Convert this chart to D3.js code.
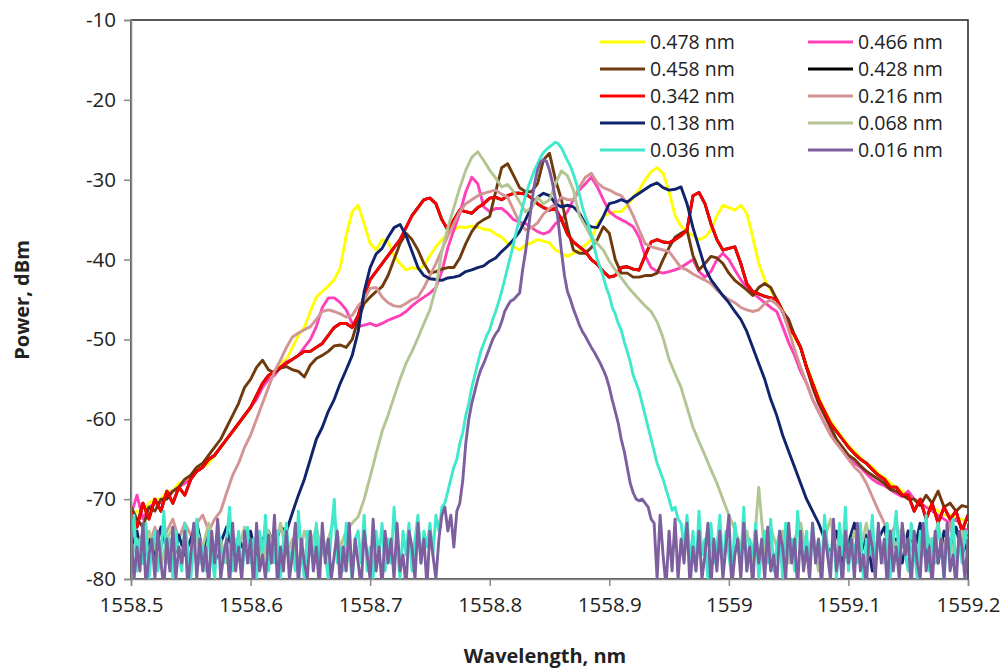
<!DOCTYPE html>
<html><head><meta charset="utf-8">
<script src="https://cdn.jsdelivr.net/npm/d3@7"></script>
<style>body{margin:0;background:#fff}</style>
</head><body><svg id="c" width="1008" height="669"></svg>
<script>
// ---------------- data ----------------
const xTicks = [1558.5,1558.6,1558.7,1558.8,1558.9,1559.0,1559.1,1559.2];
const xTickLabels = ["1558.5","1558.6","1558.7","1558.8","1558.9","1559","1559.1","1559.2"];
const yTicks = [-80,-70,-60,-50,-40,-30,-20,-10];
const yTickLabels = ["-80","-70","-60","-50","-40","-30","-20","-10"];
const seriesNames = ["0.478 nm","0.466 nm","0.458 nm","0.428 nm","0.342 nm","0.216 nm","0.138 nm","0.068 nm","0.036 nm","0.016 nm"];
const seriesColors = ["#ffff00","#ff40b8","#6f3a0c","#000000","#ff0000","#d49494","#10246e","#b3c593","#40e8cc","#7d5fa0"];

// coarse traces, sampled every 0.005 nm from 1558.5 nm
const p478 = [-72,-71.5,-72,-70.5,-70,-70,-69,-69,-68,-68,
 -67,-66.5,-66,-65.5,-64.5,-63.5,-62.5,-61.5,-60.5,-59.5,
 -58.5,-57,-56,-55,-54,-53,-52.5,-51,-49.5,-48.5,
 -46.5,-44.7,-44,-43.3,-42.5,-41,-37,-34,-33.2,-35.5,
 -38,-38.8,-37.5,-37.8,-39.5,-40.5,-41.3,-41,-41.2,-40.8,
 -39.5,-38.4,-37.5,-36.8,-36.3,-35.9,-36,-35.8,-35.9,-36.2,
 -36.3,-36.8,-37.2,-38,-38.4,-38.8,-38.2,-37.9,-37.5,-37.7,
 -37.9,-38.8,-39.2,-39.6,-39.2,-38.8,-38.2,-37.5,-35.5,-34.6,
 -34.2,-34,-34,-33.2,-32.2,-31.3,-30,-29,-28.5,-29.2,
 -31.5,-34.5,-35.8,-36.5,-37,-37.5,-37.2,-36.3,-34.5,-33.2,
 -33.5,-33.8,-33.2,-34.2,-37.2,-40.5,-42.6,-43.8,-45,-46.3,
 -48,-49.8,-51,-53.3,-55.3,-57.2,-58.8,-60.2,-61.3,-62.3,
 -63.3,-64,-64.8,-65.5,-66,-66.8,-67.3,-68,-68.5,-69,
 -69.5,-70,-70.5,-71,-71,-71.5,-72,-72,-72.5,-72.5,
 -73];
const p466 = [-72,-69.5,-72.5,-71,-70.5,-70.5,-69.5,-69,-68.5,-68,
 -67.5,-66.5,-66,-65,-64.5,-63.5,-62.5,-61.5,-60.5,-59.5,
 -58.5,-57.5,-56,-55,-54.5,-53.5,-52.8,-52.5,-52,-51,
 -50,-48.4,-46,-44.8,-44.8,-45.4,-46.3,-48,-48.4,-48.2,
 -48,-48.3,-48,-47.6,-47.3,-47,-46.5,-45.8,-45.2,-44.7,
 -44.2,-43.5,-41.5,-38.5,-36.3,-34.2,-31.5,-29.7,-30.5,-33.4,
 -34,-33.6,-33.6,-34.2,-35,-35.3,-35.5,-36,-36.5,-36.8,
 -36.5,-35.5,-35,-34,-32.5,-31.3,-30.5,-29.7,-30.9,-32.5,
 -34,-34.6,-35,-35.4,-35.9,-37.2,-39.5,-41,-41.5,-41.7,
 -41.5,-41.3,-41,-40.5,-40,-41.5,-42.2,-41.5,-40,-39.2,
 -40,-41.3,-42.5,-43.5,-44.2,-44.8,-45.4,-46,-46.5,-48.4,
 -50.4,-52,-54,-55.5,-57.5,-59,-60.5,-61.8,-63,-63.8,
 -64.8,-65.5,-66,-66.8,-67.5,-68,-68.3,-68.8,-69.3,-69.7,
 -69,-70,-70.5,-71,-71.5,-72,-72.5,-73,-72.5,-73.5,
 -74];
const p458 = [-71,-72.5,-73.5,-71,-71.5,-70,-70,-69,-68.5,-67.5,
 -67,-66,-65.5,-64.5,-63.5,-62.5,-61,-59.5,-58,-56,
 -55,-53.5,-52.6,-53.8,-54.2,-53.6,-53.4,-53.8,-54,-54.7,
 -53.2,-52.4,-52,-51.5,-50.8,-50.7,-51,-50,-47.5,-45.5,
 -44.7,-44,-43.4,-42,-40,-38,-36.7,-37.5,-38.8,-40.5,
 -41.7,-41.5,-41.2,-41,-41,-39.8,-38,-36.5,-35.5,-35,
 -34.6,-31.5,-28.5,-28,-29.5,-31,-31.5,-31.5,-30.5,-27.5,
 -26.7,-30,-32.5,-36,-38.8,-39.2,-39.2,-38.5,-37.5,-35.9,
 -36.7,-40,-41.7,-41.7,-42.2,-42.2,-42,-42,-41.7,-40,
 -38.5,-37.2,-36.7,-36.3,-39.5,-41.3,-40.5,-39.6,-39.8,-40.5,
 -41.7,-42.6,-43.2,-43.8,-44.5,-43.5,-43,-43.5,-45,-46.5,
 -47.5,-49.5,-51,-53.5,-56,-58,-59.5,-61,-62.5,-63.5,
 -64.5,-65,-65.8,-66.5,-67,-67.5,-68,-68.8,-69,-69.5,
 -70,-70,-70.8,-69.5,-70.5,-69,-71,-70.5,-71.5,-70.8,
 -71];
const p428 = [-71.5,-73.5,-70.5,-72.5,-70,-71.5,-69,-70.5,-68.5,-69.5,
 -67.5,-66.5,-66,-65,-64.5,-63.5,-62.5,-61.5,-60.5,-59.5,
 -58.5,-57,-55.5,-54.5,-54,-53.5,-53,-52.5,-52,-51.5,
 -51.5,-51,-50.5,-49.5,-48.5,-48,-48,-48.5,-47,-44.5,
 -42.5,-41.5,-40.5,-39.5,-38.5,-37.5,-36,-34.5,-33.5,-32.5,
 -32.3,-33,-35,-36.3,-35,-33.8,-34,-34.2,-33.5,-33,
 -32.3,-32.2,-32.5,-32,-31.7,-31.7,-31.8,-32.3,-33,-33.5,
 -33.8,-33.6,-35,-36.8,-37.8,-38.4,-39,-40,-40.6,-41.5,
 -42.2,-42,-41,-40.9,-41.2,-41.3,-39.5,-37.8,-37.5,-37.8,
 -37.9,-37.5,-37,-36.3,-32,-31.6,-33,-35.5,-37.5,-38.8,
 -38.6,-38.4,-40.5,-43,-44,-44.3,-44.6,-44.8,-45,-46.5,
 -48.5,-49.5,-51,-53.5,-55.5,-57.5,-59,-60.5,-61.5,-62.5,
 -63.5,-64.3,-65,-65.5,-66.3,-67,-67.5,-68.5,-68.5,-69.5,
 -69.5,-71.5,-70,-72.5,-70.5,-73,-71,-72.5,-71.5,-74,
 -72];
const p342 = [-71.5,-73.5,-70.5,-72.5,-70,-71.5,-69,-70.5,-68.5,-69.5,
 -67.5,-66.5,-66,-65,-64.5,-63.5,-62.5,-61.5,-60.5,-59.5,
 -58.5,-57,-55.5,-54.5,-54,-53.5,-53,-52.5,-52,-51.5,
 -51.5,-51,-50.5,-49.5,-48.5,-48,-48,-48.5,-47,-44.5,
 -42.5,-41.5,-40.5,-39.5,-38.5,-37.5,-36,-34.5,-33.5,-32.5,
 -32.3,-33,-35,-36.3,-35,-33.8,-34,-34.2,-33.5,-33,
 -32.3,-32.2,-32.5,-32,-31.7,-31.7,-31.8,-32.3,-33,-33.5,
 -33.8,-33.6,-35,-36.8,-37.8,-38.4,-39,-40,-40.6,-41.5,
 -42.2,-42,-41,-40.9,-41.2,-41.3,-39.5,-37.8,-37.5,-37.8,
 -37.9,-37.5,-37,-36.3,-32,-31.6,-33,-35.5,-37.5,-38.8,
 -38.6,-38.4,-40.5,-43,-44,-44.3,-44.6,-44.8,-45,-46.5,
 -48.5,-49.5,-51,-53.5,-55.5,-57.5,-59,-60.5,-61.5,-62.5,
 -63.5,-64.3,-65,-65.5,-66.3,-67,-67.5,-68.5,-68.5,-69.5,
 -69.5,-71.5,-70,-72.5,-70.5,-73,-71,-72.5,-71.5,-74,
 -72];
const p216 = [-75,-77,-74,-76,-73.5,-76,-74,-72.5,-75,-73,
 -74.5,-73,-72,-74,-72.5,-71.5,-69.2,-67,-65.5,-63.5,
 -62,-60,-58,-56,-54,-52.6,-51,-49.7,-49.2,-48.8,
 -48.4,-47.5,-46.5,-46.3,-46.5,-46.8,-47.2,-47,-45.8,-45,
 -43.6,-43.5,-44.7,-45.4,-45.8,-45.9,-45.5,-45,-44.7,-43.5,
 -42,-40.5,-38.8,-37,-35.5,-34,-33,-32.5,-32,-31.7,
 -31.5,-31.3,-31.8,-32.2,-33.8,-35.4,-36.3,-36,-35.4,-34.3,
 -33.6,-33,-32.2,-32.5,-32.5,-30.9,-29.7,-29.2,-30.4,-31,
 -31.3,-31.7,-32,-33,-34.5,-36.3,-38,-38.4,-38.6,-38.8,
 -39,-40,-41,-41.3,-41.8,-42.2,-42.6,-43,-43.8,-44.5,
 -45,-45.4,-46,-46.3,-46.5,-46.3,-45.5,-45,-45.6,-46.5,
 -48.8,-51.3,-53.5,-55.5,-57.5,-59,-60.5,-62,-63,-64,
 -65,-66,-66.7,-68,-69.7,-71.4,-73,-74.5,-73,-76,
 -74,-77,-73.5,-75,-78,-74,-76,-73,-77,-75,
 -74];
const p138 = [-76,-74,-78,-75,-77,-73.5,-76,-78,-74.5,-77,
 -75,-73,-76.5,-74,-78,-75.5,-73.5,-77,-75,-76.5,
 -74,-77.5,-75,-74,-76,-73.5,-74,-71.7,-69.5,-67.5,
 -65,-62.5,-61,-59,-57.5,-55.5,-53.8,-52,-49,-44,
 -41,-39.3,-38.6,-37.2,-36,-35.6,-37,-39,-41,-42,
 -42.4,-42.5,-42.6,-42.3,-42.2,-42,-41.5,-41.3,-41,-40.8,
 -40.2,-39.8,-39,-38.3,-37.5,-36.5,-35,-33.4,-32.2,-31.7,
 -32,-33,-33.4,-33.2,-33.4,-34.2,-35.5,-35.9,-36,-34.6,
 -33,-32.8,-32.5,-32.8,-32.2,-31.7,-31.2,-30.7,-30.4,-31,
 -31.3,-31.2,-30.9,-33,-36,-38.5,-41,-42.5,-43.5,-44.5,
 -45.4,-46.5,-47.5,-49,-51,-53,-55,-57.5,-59.5,-62,
 -64,-66,-68,-70,-71.5,-73,-75,-77,-74,-78,
 -75.5,-73,-77,-74.5,-79,-75,-73.5,-77,-75,-78,
 -74,-76.5,-73,-77,-75,-78,-74,-76,-73.5,-77,
 -75];
const p068 = [-77,-75,-78,-74,-76,-78.5,-75,-73.5,-77,-75.5,
 -79,-74,-76,-73,-77.5,-75,-78,-74.5,-76,-73.5,
 -77,-75,-78,-74,-76.5,-73,-77,-75,-78,-74,
 -76,-73.5,-77,-75,-72.5,-76,-74,-73,-72.2,-70,
 -67.2,-64.3,-61.5,-59.5,-57.2,-55,-53,-51.5,-49.8,-48,
 -46.3,-43.5,-39,-36,-33.5,-31,-28.8,-27.2,-26.5,-27.6,
 -28.8,-29.8,-30.9,-30.6,-31.5,-32.8,-34,-33.5,-32.2,-33,
 -32.5,-30.5,-28.9,-29.5,-31.3,-34.5,-35.8,-37.2,-38,-38.8,
 -40.2,-41.3,-42.3,-43.3,-44.2,-45,-45.8,-46.5,-47.8,-49.8,
 -52.5,-54.3,-56,-58.5,-61,-62.8,-64.5,-66.3,-68,-70,
 -72,-73.8,-76,-74,-78,-68.5,-77,-73.5,-76,-74,
 -78,-75,-73,-77,-74.5,-79,-75,-72.5,-77,-75,
 -78,-74,-76.5,-73,-77,-75,-78,-74,-76,-73.5,
 -77,-75,-78,-74,-76,-73,-77,-75,-78,-74,
 -76];

// fine traces, sampled every 0.0025 nm
const p036FloorL = [-76,-72,-79,-75,-78,-73,-80,-76,-74,-79,
 -77,-71.5,-78,-75,-80,-74,-77,-79,-73,-76,
 -80,-75,-72.5,-78,-76,-79,-74,-77,-80,-73,
 -76,-78,-75,-71,-79,-77,-74,-80,-76,-73.5,
 -78,-75,-80,-74,-77,-72,-79,-76,-78,-74,
 -80,-75,-73,-78,-76,-79,-71.5,-77,-80,-74,
 -76,-78,-73,-79,-75,-77,-80,-74,-70,-78,
 -76,-79,-73,-77,-80,-75,-74,-78,-72,-79,
 -76,-80,-74,-77,-73,-79,-75,-78,-71,-76,
 -80,-74,-77,-73,-79,-75,-72,-78,-74,-76,
 -73,-77,-72,-74];
const p036Main = [-71,-70.5,-69,-67.5,-66,-65,-63,-61.7,-59.5,-58,
 -56,-54.5,-53,-51.5,-50.5,-49.5,-48.8,-47.5,-46.5,-45.3,
 -44,-42.5,-41,-39.5,-38,-36.3,-35,-33.4,-32,-30.8,
 -29.8,-28.8,-28,-27.2,-26.6,-26.2,-25.9,-25.6,-25.3,-25.5,
 -26,-26.8,-27.6,-28.3,-29.3,-30.5,-31.8,-33.4,-34.6,-35.6,
 -37,-38.5,-40,-41,-42.2,-43.5,-44.5,-46,-46.8,-48,
 -48.8,-50.3,-51.5,-52.8,-54.5,-55.5,-56.5,-58,-59.5,-61,
 -62.5,-64,-65.5,-66.5,-67.5,-68.8,-70,-71.4,-71,-72.5];
const p036FloorR = [-73,-76,-72,-78,-74,-79,-71.5,-77,-75,-80,
 -73,-78,-76,-72,-79,-74,-77,-80,-73,-76,
 -78,-71,-79,-75,-77,-73,-80,-76,-74,-78,
 -72.5,-79,-76,-74,-80,-73,-77,-75,-79,-71.5,
 -76,-78,-74,-80,-73,-77,-75,-79,-72,-76,
 -78,-74,-80,-73,-77,-71,-79,-75,-76,-78,
 -73,-80,-75,-77,-72,-79,-74,-76,-78,-73,
 -80,-75,-71.5,-78,-74,-77,-79,-73,-76,-80,
 -74,-77,-72,-79,-75,-78,-73,-76,-80,-74,
 -77,-72.5,-79,-75,-78,-74,-76];
const p016FloorL = [-74,-80,-76,-79,-73,-81,-77,-75,-80,-74,
 -78,-81,-75,-79,-73.5,-80,-76,-78,-74,-81,
 -77,-73,-80,-75,-79,-76,-81,-74,-78,-72.5,
 -80,-77,-75,-81,-73,-79,-76,-80,-74,-78,
 -75,-81,-73,-79,-77,-80,-74.5,-78,-72,-81,
 -76,-79,-74,-80,-77,-73,-81,-75,-78,-80,
 -74,-79,-76,-81,-73,-78,-75,-80,-77,-74,
 -81,-76,-79,-73,-80,-75,-78,-81,-74,-77,
 -80,-72.5,-79,-76,-81,-74,-78,-75,-80,-73,
 -79,-77,-81,-74,-76,-80,-73,-78,-75,-81,
 -74,-77,-80,-75];
const p016Main = [-72,-71,-74,-72,-76,-71.5,-70.5,-67.6,-63,-60,
 -58,-56.5,-55,-53.8,-53,-52,-51,-50,-49.3,-48.8,
 -47.8,-46.5,-45.8,-45.2,-45,-44.6,-44.2,-41.3,-39,-36,
 -33,-30.5,-28.8,-27.8,-27.5,-27.7,-28.8,-30.4,-32.5,-35.5,
 -39,-42,-44,-45,-46.2,-47.2,-48.2,-49,-49.6,-50.3,
 -51,-51.6,-52.3,-53,-53.8,-54.7,-56,-57.6,-59,-60.5,
 -62.5,-64,-66,-68,-69.2,-70,-70.2,-70,-70.5,-71,
 -72.5];
const p016FloorR = [-73,-80,-72,-77,-81,-74,-79,-72.5,-80,-75,
 -78,-73,-81,-76,-79,-74,-80,-77,-73,-81,
 -75,-79,-74,-80,-76,-72,-81,-77,-75,-80,
 -73,-79,-76,-81,-74,-78,-75,-80,-73.5,-79,
 -77,-81,-74,-76,-80,-73,-78,-75,-81,-74,
 -79,-76,-80,-73,-78,-75,-81,-74,-77,-80,
 -72.5,-79,-76,-81,-74,-78,-75,-80,-73,-79,
 -77,-81,-74,-76,-80,-73,-78,-75,-81,-74,
 -79,-76,-80,-73,-77,-75,-81,-74,-78,-80,
 -73,-79,-76,-81,-74,-78,-75,-80,-73,-79,
 -77,-81,-74,-76,-80,-75];

// segment tables: [start wavelength, step, values]
const seriesSegments = [
  [[1558.5, 0.005, p478]],
  [[1558.5, 0.005, p466]],
  [[1558.5, 0.005, p458]],
  [[1558.5, 0.005, p428]],
  [[1558.5, 0.005, p342]],
  [[1558.5, 0.005, p216]],
  [[1558.5, 0.005, p138]],
  [[1558.5, 0.005, p068]],
  [[1558.5, 0.0025, p036FloorL],[1558.76, 0.0025, p036Main],[1558.96, 0.0025, p036FloorR]],
  [[1558.5, 0.0025, p016FloorL],[1558.76, 0.0025, p016Main],[1558.9375, 0.0025, p016FloorR]]
];

// ---------------- drawing ----------------
const W = 1008, H = 669;
const L = 131, R = 968, T = 20, B = 579;
const svg = d3.select("#c");
svg.append("rect").attr("width", W).attr("height", H).attr("fill", "#fff");

const x = d3.scaleLinear().domain([1558.5, 1559.2]).range([L, R]);
const y = d3.scaleLinear().domain([-80, -10]).range([B, T]);

svg.append("defs").append("clipPath").attr("id", "clip")
  .append("rect").attr("x", L).attr("y", T).attr("width", R - L).attr("height", B - T);

// frame (top/right)
svg.append("rect").attr("x", L).attr("y", T).attr("width", R - L).attr("height", B - T)
  .attr("fill", "none").attr("stroke", "#222").attr("stroke-width", 1.5);

const line = d3.line().x(d => x(d[0])).y(d => y(d[1])).curve(d3.curveLinear);
const g = svg.append("g").attr("clip-path", "url(#clip)");
seriesSegments.forEach((segs, k) => {
  const pts = [];
  segs.forEach(([s, st, vals]) => vals.forEach((v, i) => pts.push([s + st * i, v])));
  g.append("path").datum(pts).attr("d", line)
    .attr("fill", "none").attr("stroke", seriesColors[k])
    .attr("stroke-width", 2.9).attr("stroke-linejoin", "round");
});

// axes
const fontTick = "'Open Sans', sans-serif";
const yAxis = d3.axisLeft(y).tickValues(yTicks).tickSize(7).tickPadding(8)
  .tickFormat((d, i) => yTickLabels[i]);
const ya = svg.append("g").attr("transform", `translate(${L},0)`).call(yAxis);
const xAxis = d3.axisBottom(x).tickValues(xTicks).tickSize(7).tickPadding(11)
  .tickFormat((d, i) => xTickLabels[i]);
const xa = svg.append("g").attr("transform", `translate(0,${B})`).call(xAxis);
[ya, xa].forEach(a => {
  a.select(".domain").attr("stroke", "#888").attr("stroke-width", 1.5);
  a.selectAll(".tick line").attr("stroke", "#888").attr("stroke-width", 1.5);
  a.selectAll(".tick text").attr("fill", "#222").style("font-family", fontTick).style("font-size", "20.5px");
});

// axis titles
svg.append("text").attr("x", 545).attr("y", 663).attr("text-anchor", "middle")
  .style("font-family", fontTick).style("font-size", "20px").style("font-weight", "bold").attr("fill", "#222")
  .text("Wavelength, nm");
svg.append("text").attr("transform", "translate(29,300) rotate(-90)").attr("text-anchor", "middle")
  .style("font-family", fontTick).style("font-size", "20px").style("font-weight", "bold").attr("fill", "#222")
  .text("Power, dBm");

// legend
const legX = [600, 808], legTextX = [650, 858], legY0 = 42, legDY = 27;
seriesNames.forEach((n, k) => {
  const col = k % 2, row = Math.floor(k / 2);
  const yy = legY0 + row * legDY;
  svg.append("line").attr("x1", legX[col]).attr("x2", legX[col] + 45).attr("y1", yy).attr("y2", yy)
    .attr("stroke", seriesColors[k]).attr("stroke-width", 3);
  svg.append("text").attr("x", legTextX[col]).attr("y", yy + 7)
    .style("font-family", fontTick).style("font-size", "19.5px").attr("fill", "#222").text(n);
});
</script></body></html>
